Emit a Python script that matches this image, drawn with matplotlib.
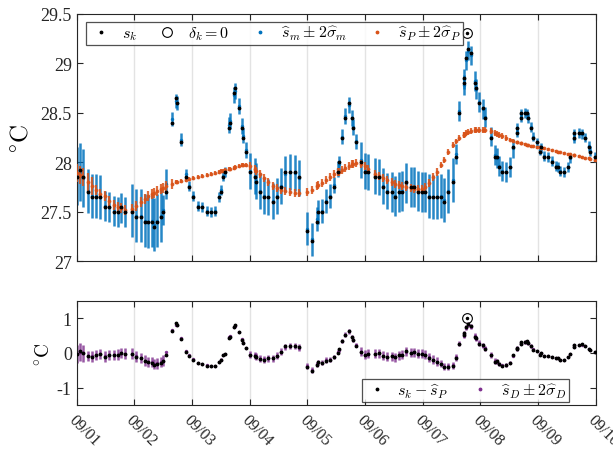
import numpy as np
import matplotlib
matplotlib.use("Agg")
import matplotlib.pyplot as plt
from matplotlib.lines import Line2D

plt.rcParams['font.family'] = 'serif'
plt.rcParams['font.serif'] = ['Liberation Serif', 'DejaVu Serif']
plt.rcParams['mathtext.fontset'] = 'cm'

# hours since 09/01 00:00
hours = [0, 1.2, 2.8, 4.7, 6.6, 8.2, 9.8, 11.7, 13.6, 15.6,
         17.3, 18.6, 20.2, 22.9, 24.6, 26.7, 28.4, 29.9, 31.3, 32.3,
         33.4, 35.1, 35.9, 37.2, 39.6, 41.3, 41.9, 43.4, 45.5, 46.8,
         48.3, 50.5, 52.3, 54.2, 56.0, 57.7, 59.3, 59.9, 61.0, 61.6,
         63.4, 63.8, 65.3, 65.8, 67.5, 68.6, 69.2, 70.4, 72.2, 74.0,
         74.6, 76.1, 77.8, 79.8, 81.9, 83.4, 85.1, 86.8, 88.9, 91.0,
         92.7, 95.9, 97.8, 100.1, 100.6, 101.9, 103.6, 105.3, 107.1, 108.8,
         109.0, 110.3, 111.5, 113.2, 114.6, 114.9, 116.4, 118.2, 119.8, 121.3,
         124.0, 125.8, 127.5, 129.2, 131.0, 132.6, 134.1, 135.5, 137.2, 138.9,
         140.4, 142.0, 143.5, 145.0, 146.7, 148.3, 149.9, 151.5, 152.9, 154.7,
         156.5, 157.8, 159.2, 161.0, 161.2, 162.1, 162.9, 164.0, 165.8, 166.2,
         167.3, 168.9, 169.7, 172.3, 174.0, 174.7, 175.7, 176.8, 178.5, 180.1,
         181.5, 183.0, 183.3, 184.8, 185.0, 186.4, 187.3, 187.9, 189.0, 189.8,
         191.7, 192.6, 193.0, 194.4, 196.0, 197.6, 199.6, 200.2, 201.0, 202.8,
         204.4, 205.3, 206.8, 207.0, 208.8, 210.1, 211.5, 213.0, 213.5, 215.5]

# measured temperature s_k
s_k = [27.85, 27.92, 27.85, 27.70, 27.65, 27.65, 27.65, 27.55, 27.55, 27.50,
       27.50, 27.55, 27.50, 27.50, 27.45, 27.45, 27.40, 27.40, 27.40, 27.35,
       27.40, 27.45, 27.50, 27.70, 28.40, 28.65, 28.60, 28.20, 27.85, 27.75,
       27.65, 27.55, 27.55, 27.50, 27.50, 27.50, 27.65, 27.70, 27.85, 27.90,
       28.35, 28.40, 28.70, 28.75, 28.55, 28.35, 28.25, 28.10, 27.90, 27.85,
       27.80, 27.70, 27.65, 27.65, 27.60, 27.65, 27.75, 27.90, 27.90, 27.90,
       27.85, 27.30, 27.20, 27.40, 27.50, 27.50, 27.60, 27.65, 27.75, 27.90,
       28.00, 28.25, 28.45, 28.60, 28.45, 28.35, 28.20, 28.00, 27.90, 27.90,
       27.85, 27.85, 27.75, 27.70, 27.70, 27.65, 27.70, 27.70, 27.80, 27.75,
       27.75, 27.70, 27.70, 27.70, 27.65, 27.65, 27.65, 27.65, 27.60, 27.70,
       27.80, 28.05, 28.50, 28.80, 28.85, 29.05, 29.15, 29.10, 28.80, 28.75,
       28.60, 28.55, 28.45, 28.25, 28.05, 28.05, 27.95, 27.90, 27.90, 27.95,
       28.15, 28.30, 28.35, 28.45, 28.50, 28.50, 28.50, 28.45, 28.35, 28.25,
       28.20, 28.10, 28.15, 28.05, 28.05, 28.00, 27.95, 27.95, 27.90, 27.90,
       27.95, 28.05, 28.25, 28.30, 28.30, 28.30, 28.25, 28.15, 28.10, 28.05]

# measurement model estimate s_m
s_m = [27.86, 27.90, 27.84, 27.71, 27.66, 27.66, 27.65, 27.56, 27.55, 27.51,
       27.50, 27.54, 27.50, 27.51, 27.46, 27.46, 27.41, 27.40, 27.41, 27.37,
       27.41, 27.46, 27.52, 27.78, 28.44, 28.62, 28.60, 28.23, 27.88, 27.76,
       27.66, 27.56, 27.55, 27.51, 27.50, 27.51, 27.65, 27.72, 27.86, 27.90,
       28.38, 28.42, 28.68, 28.72, 28.57, 28.37, 28.27, 28.12, 27.91, 27.86,
       27.81, 27.71, 27.66, 27.65, 27.61, 27.66, 27.76, 27.88, 27.90, 27.89,
       27.84, 27.33, 27.22, 27.43, 27.50, 27.51, 27.61, 27.66, 27.77, 27.93,
       27.98, 28.26, 28.47, 28.58, 28.45, 28.36, 28.21, 28.02, 27.91, 27.90,
       27.86, 27.85, 27.76, 27.71, 27.70, 27.66, 27.70, 27.71, 27.79, 27.75,
       27.75, 27.71, 27.70, 27.70, 27.66, 27.65, 27.65, 27.66, 27.62, 27.71,
       27.82, 28.08, 28.52, 28.78, 28.84, 29.03, 29.13, 29.08, 28.82, 28.74,
       28.61, 28.54, 28.46, 28.26, 28.07, 28.04, 27.96, 27.91, 27.90, 27.95,
       28.14, 28.31, 28.35, 28.46, 28.49, 28.50, 28.49, 28.45, 28.36, 28.26,
       28.20, 28.12, 28.14, 28.06, 28.05, 28.01, 27.96, 27.95, 27.91, 27.90,
       27.95, 28.04, 28.24, 28.29, 28.30, 28.29, 28.25, 28.16, 28.11, 28.05]

# slow (periodic) component s_P
s_P = [27.89, 27.87, 27.85, 27.80, 27.76, 27.72, 27.68, 27.66, 27.61, 27.57,
       27.55, 27.54, 27.52, 27.53, 27.56, 27.60, 27.63, 27.66, 27.68, 27.69,
       27.71, 27.73, 27.74, 27.76, 27.78, 27.80, 27.80, 27.81, 27.82, 27.83,
       27.84, 27.85, 27.86, 27.87, 27.88, 27.89, 27.90, 27.91, 27.91, 27.92,
       27.93, 27.93, 27.94, 27.95, 27.96, 27.97, 27.97, 27.97, 27.96, 27.93,
       27.91, 27.88, 27.84, 27.80, 27.76, 27.74, 27.72, 27.71, 27.70, 27.69,
       27.69, 27.70, 27.72, 27.76, 27.77, 27.79, 27.82, 27.85, 27.88, 27.90,
       27.90, 27.92, 27.94, 27.96, 27.98, 27.98, 27.99, 27.98, 27.96, 27.93,
       27.88, 27.86, 27.84, 27.82, 27.80, 27.78, 27.77, 27.76, 27.75, 27.74,
       27.73, 27.73, 27.73, 27.75, 27.79, 27.85, 27.90, 27.97, 28.02, 28.10,
       28.17, 28.21, 28.25, 28.28, 28.28, 28.30, 28.31, 28.32, 28.33, 28.33,
       28.33, 28.33, 28.33, 28.32, 28.30, 28.29, 28.28, 28.27, 28.25, 28.23,
       28.22, 28.20, 28.20, 28.19, 28.19, 28.18, 28.17, 28.17, 28.16, 28.16,
       28.15, 28.15, 28.14, 28.14, 28.13, 28.12, 28.11, 28.10, 28.10, 28.09,
       28.08, 28.08, 28.07, 28.07, 28.06, 28.05, 28.04, 28.04, 28.03, 28.02]

# 2-sigma half widths, piecewise by time segment (segment start in hours)
m_seg_start = [0, 4, 11, 21, 35.5, 39, 44, 63, 72, 95, 100, 107, 118, 131, 146, 157, 174, 183]
m_seg_2sig = [0.29, 0.22, 0.15, 0.27, 0.15, 0.07, 0.05, 0.08, 0.18, 0.17, 0.12, 0.08,
              0.18, 0.20, 0.22, 0.10, 0.10, 0.05]
p_seg_start = [0, 8, 40, 72, 150, 180]
p_seg_2sig = [0.09, 0.05, 0.02, 0.04, 0.03, 0.015]
d_seg_start = [0, 3, 36.5, 72, 95, 107, 118, 150, 158, 175, 190]
d_seg_2sig = [0.25, 0.15, 0.03, 0.10, 0.08, 0.06, 0.13, 0.10, 0.08, 0.05, 0.02]

# sample with delta_k = 0
out_hour = [162.5]
out_val = [29.31]
out_sP = [28.31]

day_labels = ['09/01', '09/02', '09/03', '09/04', '09/05', '09/06', '09/07', '09/08', '09/09', '09/10']

t = np.array(hours)
sk = np.array(s_k)
sm = np.array(s_m)
sp = np.array(s_P)


def seg_lookup(starts, vals):
    idx = np.searchsorted(starts, t, side='right') - 1
    return np.array(vals)[idx]


e_m = seg_lookup(m_seg_start, m_seg_2sig)
e_p = seg_lookup(p_seg_start, p_seg_2sig)
e_d = seg_lookup(d_seg_start, d_seg_2sig)

blue = '#0072BD'
orange = '#D95319'
purple = '#7E2F8E'
axcol = '#262626'

fig = plt.figure(figsize=(6.13, 4.52), dpi=100)
ax1 = fig.add_axes([0.125, 0.420, 0.847, 0.547])
ax2 = fig.add_axes([0.125, 0.102, 0.847, 0.230])

ax1.errorbar(t, sm, yerr=e_m, fmt='.', color=blue, ms=3, elinewidth=1.8, alpha=0.85, capsize=0, zorder=2)
ax1.errorbar(t, sp, yerr=e_p, fmt='.', color=orange, ms=3.5, elinewidth=1.6, alpha=0.85, capsize=0, zorder=3)
ax1.plot(t, sk, '.', color='k', ms=3.5, zorder=4)
ax1.plot(out_hour, out_val, '.', color='k', ms=3, zorder=4)
ax1.plot(out_hour, out_val, 'o', mfc='none', mec='k', ms=7, mew=0.8, zorder=4)

ax2.errorbar(t, sm - sp, yerr=e_d, fmt='.', color=purple, ms=3, elinewidth=1.8, alpha=0.8, capsize=0, zorder=2)
ax2.plot(t, sk - sp, '.', color='k', ms=3.5, zorder=4)
ax2.plot(out_hour, np.array(out_val) - np.array(out_sP), '.', color='k', ms=3, zorder=4)
ax2.plot(out_hour, np.array(out_val) - np.array(out_sP), 'o', mfc='none', mec='k', ms=7, mew=0.8, zorder=4)

day_ticks = np.arange(0, 217, 24)
for ax in (ax1, ax2):
    ax.set_xlim(0, 216)
    ax.set_xticks(day_ticks)
    ax.grid(axis='x', color='#e3e3e3', lw=1)
    ax.set_axisbelow(True)
    ax.tick_params(direction='in', top=True, right=True, length=4, width=0.8,
                   labelsize=13, colors=axcol)
    for sp_ in ax.spines.values():
        sp_.set_color(axcol)
        sp_.set_linewidth(0.8)

ax1.set_ylim(27, 29.5)
ax1.set_yticks([27, 27.5, 28, 28.5, 29, 29.5])
ax1.set_yticklabels(['27', '27.5', '28', '28.5', '29', '29.5'])
ax1.set_xticklabels([])
ax1.set_ylabel(r'$^{\circ}\mathrm{C}$', fontsize=18, labelpad=6)

ax2.set_ylim(-1.5, 1.5)
ax2.set_yticks([-1, 0, 1])
ax2.set_yticklabels(['-1', '0', '1'])
ax2.set_xticklabels(day_labels, rotation=-45, ha='left', va='top', rotation_mode='anchor', fontsize=11.5)
ax2.tick_params(axis='x', pad=5)
ax2.set_ylabel(r'$^{\circ}\mathrm{C}$', fontsize=14, labelpad=2)

h1 = [Line2D([], [], ls='none', marker='.', color='k', ms=3.5),
      Line2D([], [], ls='none', marker='o', mfc='none', mec='k', ms=7, mew=0.8),
      Line2D([], [], ls='none', marker='.', color=blue, ms=3.5),
      Line2D([], [], ls='none', marker='.', color=orange, ms=3.5)]
l1 = [r'$s_k$', r'$\delta_k = 0$', r'$\widehat{s}_m \pm 2\widehat{\sigma}_m$',
      r'$\widehat{s}_P \pm 2\widehat{\sigma}_P$']
leg1 = ax1.legend(h1, l1, ncol=4, loc='upper left', bbox_to_anchor=(0.018, 0.968),
                  fontsize=11.5, frameon=True, fancybox=False, borderpad=0.15,
                  handlelength=1.6, columnspacing=1.1, handletextpad=0.5, borderaxespad=0)
leg1.get_frame().set_edgecolor(axcol)
leg1.get_frame().set_linewidth(0.9)

h2 = [Line2D([], [], ls='none', marker='.', color='k', ms=3.5),
      Line2D([], [], ls='none', marker='.', color=purple, ms=3.5)]
l2 = [r'$s_k - \widehat{s}_P$', r'$\widehat{s}_D \pm 2\widehat{\sigma}_D$']
leg2 = ax2.legend(h2, l2, ncol=2, loc='lower right', bbox_to_anchor=(0.948, 0.026),
                  fontsize=11.5, frameon=True, fancybox=False, borderpad=0.15,
                  handlelength=1.6, columnspacing=1.2, handletextpad=0.5, borderaxespad=0)
leg2.get_frame().set_edgecolor(axcol)
leg2.get_frame().set_linewidth(0.9)

fig.savefig('out.png', dpi=100)
